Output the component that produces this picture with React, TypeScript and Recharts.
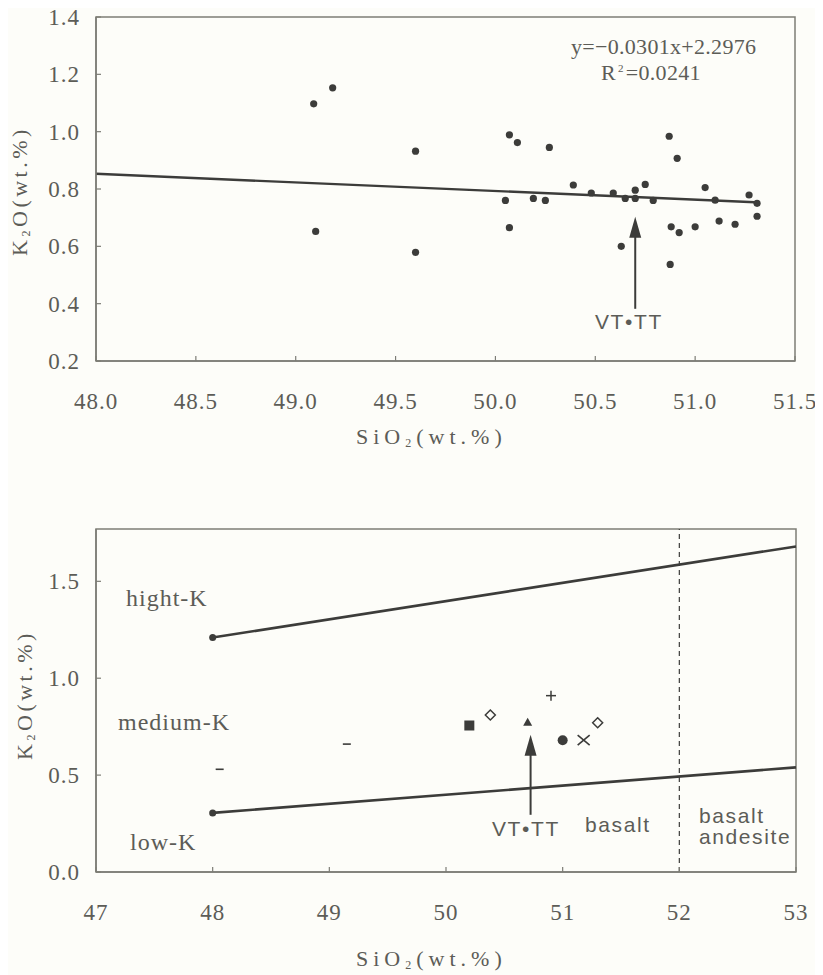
import React from "react";
import {
  ScatterChart,
  Scatter,
  XAxis,
  YAxis,
  ReferenceLine,
  ReferenceArea,
  ReferenceDot,
} from "recharts";

// ---- upper plot: K2O vs SiO2 of the samples, with linear fit ----
const topSamples = [
  { x: 49.09, y: 1.097 },
  { x: 49.185, y: 1.153 },
  { x: 49.6, y: 0.932 },
  { x: 49.1, y: 0.652 },
  { x: 49.6, y: 0.579 },
  { x: 50.07, y: 0.989 },
  { x: 50.11, y: 0.962 },
  { x: 50.27, y: 0.945 },
  { x: 50.39, y: 0.814 },
  { x: 50.48, y: 0.786 },
  { x: 50.59, y: 0.786 },
  { x: 50.65, y: 0.767 },
  { x: 50.7, y: 0.796 },
  { x: 50.7, y: 0.767 },
  { x: 50.05, y: 0.76 },
  { x: 50.19, y: 0.767 },
  { x: 50.25, y: 0.76 },
  { x: 50.07, y: 0.665 },
  { x: 50.63, y: 0.6 },
  { x: 50.75, y: 0.816 },
  { x: 50.79, y: 0.76 },
  { x: 50.87, y: 0.984 },
  { x: 50.91, y: 0.907 },
  { x: 51.05, y: 0.805 },
  { x: 51.1, y: 0.761 },
  { x: 51.27, y: 0.779 },
  { x: 51.31, y: 0.75 },
  { x: 51.31, y: 0.705 },
  { x: 50.88, y: 0.668 },
  { x: 50.92, y: 0.648 },
  { x: 51.0, y: 0.668 },
  { x: 51.12, y: 0.688 },
  { x: 51.2, y: 0.677 },
  { x: 50.875, y: 0.537 },
];
const fitLine = [
  { x: 48.0, y: 0.853 },
  { x: 51.3, y: 0.754 },
];
const topXTicks = [48.0, 48.5, 49.0, 49.5, 50.0, 50.5, 51.0, 51.5];
const topYTicks = [0.2, 0.4, 0.6, 0.8, 1.0, 1.2, 1.4];
const topArrowTip = { x: 50.7, y: 0.703 };

// ---- lower plot: K2O-SiO2 classification ----
const bottomSamples = [
  { x: 48.06, y: 0.53, sym: "dash" },
  { x: 49.15, y: 0.66, sym: "dash" },
  { x: 50.2, y: 0.756, sym: "square" },
  { x: 50.38, y: 0.81, sym: "diamond" },
  { x: 50.7, y: 0.77, sym: "triangle" },
  { x: 50.9, y: 0.91, sym: "plus" },
  { x: 51.0, y: 0.68, sym: "circle" },
  { x: 51.18, y: 0.68, sym: "cross" },
  { x: 51.3, y: 0.77, sym: "diamond" },
];
const highKLine = [
  { x: 48, y: 1.21 },
  { x: 53, y: 1.68 },
];
const lowKLine = [
  { x: 48, y: 0.305 },
  { x: 53, y: 0.54 },
];
const basaltLimit = 52;
const bottomXTicks = [47, 48, 49, 50, 51, 52, 53];
const bottomYTicks = [0.0, 0.5, 1.0, 1.5];
const bottomArrowTip = { x: 50.725, y: 0.708 };

const AXIS = "#7d7d76";
const INK = "#3c3c3a";
const TEXT = "#5c5c57";
const SERIF = "Liberation Serif, DejaVu Serif, serif";
const SANS = "Liberation Sans, DejaVu Sans, sans-serif";

function XTick(props: any) {
  const { x, y, payload, digits } = props;
  return (
    <g>
      <line x1={x} y1={y} x2={x} y2={y - 5} stroke={AXIS} strokeWidth={1.2} />
      <text
        x={x}
        y={y + 40}
        dy="0.35em"
        textAnchor="middle"
        fontFamily={SERIF}
        fontSize={23}
        letterSpacing={1}
        fill={TEXT}
      >
        {Number(payload.value).toFixed(digits)}
      </text>
    </g>
  );
}

function YTick(props: any) {
  const { x, y, payload, digits } = props;
  return (
    <g>
      <line x1={x} y1={y} x2={x + 5} y2={y} stroke={AXIS} strokeWidth={1.2} />
      <text
        x={x - 16}
        y={y}
        dy="0.35em"
        textAnchor="end"
        fontFamily={SERIF}
        fontSize={23}
        letterSpacing={1}
        fill={TEXT}
      >
        {Number(payload.value).toFixed(digits)}
      </text>
    </g>
  );
}

const Dot = (props: any) => <circle cx={props.cx} cy={props.cy} r={3.6} fill={INK} />;

const Arrow = (shaft: number) => (props: any) => {
  const { cx, cy } = props;
  return (
    <g>
      <line x1={cx} y1={cy + 18} x2={cx} y2={cy + shaft} stroke={INK} strokeWidth={2} />
      <polygon points={`${cx},${cy} ${cx - 6},${cy + 21} ${cx + 6},${cy + 21}`} fill={INK} />
    </g>
  );
};

const Marker = (props: any) => {
  const { cx, cy, payload } = props;
  switch (payload.sym) {
    case "dash":
      return <line x1={cx - 4} y1={cy} x2={cx + 4} y2={cy} stroke={INK} strokeWidth={1.6} />;
    case "square":
      return <rect x={cx - 5} y={cy - 5} width={10} height={10} fill={INK} />;
    case "diamond":
      return (
        <polygon
          points={`${cx},${cy - 5} ${cx + 5},${cy} ${cx},${cy + 5} ${cx - 5},${cy}`}
          fill="none"
          stroke={INK}
          strokeWidth={1.5}
        />
      );
    case "triangle":
      return <polygon points={`${cx},${cy - 5} ${cx + 4.5},${cy + 3} ${cx - 4.5},${cy + 3}`} fill={INK} />;
    case "plus":
      return (
        <g stroke={INK} strokeWidth={1.5}>
          <line x1={cx - 5} y1={cy} x2={cx + 5} y2={cy} />
          <line x1={cx} y1={cy - 5} x2={cx} y2={cy + 5} />
        </g>
      );
    case "circle":
      return <circle cx={cx} cy={cy} r={5} fill={INK} />;
    case "cross":
      return (
        <g stroke={INK} strokeWidth={1.6}>
          <line x1={cx - 6} y1={cy - 5} x2={cx + 6} y2={cy + 5} />
          <line x1={cx - 6} y1={cy + 5} x2={cx + 6} y2={cy - 5} />
        </g>
      );
    default:
      return null;
  }
};

const abs = (left: number, top: number, extra: React.CSSProperties = {}): React.CSSProperties => ({
  position: "absolute",
  left,
  top,
  whiteSpace: "nowrap",
  color: TEXT,
  fontFamily: SERIF,
  fontSize: 24,
  letterSpacing: 1,
  lineHeight: 1,
  ...extra,
});

const axisTitle = { fontSize: 22, letterSpacing: 5 };
const sansText = { fontFamily: SANS, fontSize: 21, letterSpacing: 1.6 };

const Sub = ({ children }: { children: React.ReactNode }) => (
  <span style={{ fontSize: 12, verticalAlign: "-3px" }}>{children}</span>
);

export default function App() {
  // overlay coordinates: page x minus 8 (body margin), page y unchanged
  return (
    <div
      style={{
        position: "relative",
        width: 815,
        height: 975,
        marginTop: -8,
        background: "#fdfdf9",
        fontFamily: SERIF,
      }}
    >
      <ScatterChart width={815} height={478} margin={{ top: 17, right: 28, bottom: 57, left: 0 }}>
        <XAxis
          type="number"
          dataKey="x"
          domain={[48, 51.5]}
          ticks={topXTicks}
          allowDataOverflow
          tickSize={0}
          tickMargin={0}
          tickLine={false}
          tick={<XTick digits={1} />}
          height={60}
          stroke={AXIS}
          strokeWidth={1.5}
        />
        <YAxis
          type="number"
          dataKey="y"
          domain={[0.2, 1.4]}
          ticks={topYTicks}
          allowDataOverflow
          tickSize={0}
          tickMargin={0}
          tickLine={false}
          tick={<YTick digits={1} />}
          width={88}
          stroke={AXIS}
          strokeWidth={1.5}
        />
        <ReferenceArea x1={48} x2={51.5} y1={0.2} y2={1.4} fill="none" stroke={AXIS} strokeWidth={1.5} />
        <ReferenceLine segment={fitLine} stroke={INK} strokeWidth={2.4} />
        <Scatter data={topSamples} shape={Dot} isAnimationActive={false} />
        <ReferenceDot x={topArrowTip.x} y={topArrowTip.y} shape={Arrow(92)} />
      </ScatterChart>

      <ScatterChart width={815} height={489} margin={{ top: 51, right: 27, bottom: 35, left: 0 }}>
        <XAxis
          type="number"
          dataKey="x"
          domain={[47, 53]}
          ticks={bottomXTicks}
          allowDataOverflow
          tickSize={0}
          tickMargin={0}
          tickLine={false}
          tick={<XTick digits={0} />}
          height={60}
          stroke={AXIS}
          strokeWidth={1.5}
        />
        <YAxis
          type="number"
          dataKey="y"
          domain={[0, 1.77]}
          ticks={bottomYTicks}
          allowDataOverflow
          tickSize={0}
          tickMargin={0}
          tickLine={false}
          tick={<YTick digits={1} />}
          width={88}
          stroke={AXIS}
          strokeWidth={1.5}
        />
        <ReferenceArea x1={47} x2={53} y1={0} y2={1.77} fill="none" stroke={AXIS} strokeWidth={1.5} />
        <ReferenceLine x={basaltLimit} stroke={INK} strokeWidth={1.2} strokeDasharray="5 4" />
        <ReferenceLine segment={highKLine} stroke={INK} strokeWidth={2.6} />
        <ReferenceLine segment={lowKLine} stroke={INK} strokeWidth={2.6} />
        <ReferenceDot x={highKLine[0].x} y={highKLine[0].y} r={3.5} fill={INK} stroke="none" />
        <ReferenceDot x={lowKLine[0].x} y={lowKLine[0].y} r={3.5} fill={INK} stroke="none" />
        <Scatter data={bottomSamples} shape={Marker} isAnimationActive={false} />
        <ReferenceDot x={bottomArrowTip.x} y={bottomArrowTip.y} shape={Arrow(80)} />
      </ScatterChart>

      {/* upper plot annotations */}
      <div style={abs(563, 36, { fontSize: 22, letterSpacing: 0.3 })}>y=−0.0301x+2.2976</div>
      <div style={abs(593, 62, { fontSize: 22, letterSpacing: 0.3 })}>
        R<sup style={{ fontSize: 11, verticalAlign: "8px", margin: "0 2px" }}>2</sup>=0.0241
      </div>
      <div style={abs(587, 311, sansText)}>VT•TT</div>
      <div style={abs(348, 426, axisTitle)}>
        SiO<Sub>2</Sub>(wt.%)
      </div>
      <div style={abs(12, 191, { ...axisTitle, letterSpacing: 3.5, transform: "translate(-50%, -50%) rotate(-90deg)" })}>
        K<Sub>2</Sub>O(wt.%)
      </div>

      {/* lower plot annotations */}
      <div style={abs(118, 586)}>hight-K</div>
      <div style={abs(110, 710)}>medium-K</div>
      <div style={abs(122, 830)}>low-K</div>
      <div style={abs(577, 814, sansText)}>basalt</div>
      <div style={abs(691, 805, { ...sansText, lineHeight: "21px" })}>
        basalt
        <br />
        andesite
      </div>
      <div style={abs(484, 818, sansText)}>VT•TT</div>
      <div style={abs(348, 948, axisTitle)}>
        SiO<Sub>2</Sub>(wt.%)
      </div>
      <div style={abs(17, 695, { ...axisTitle, letterSpacing: 3.5, transform: "translate(-50%, -50%) rotate(-90deg)" })}>
        K<Sub>2</Sub>O(wt.%)
      </div>
    </div>
  );
}
